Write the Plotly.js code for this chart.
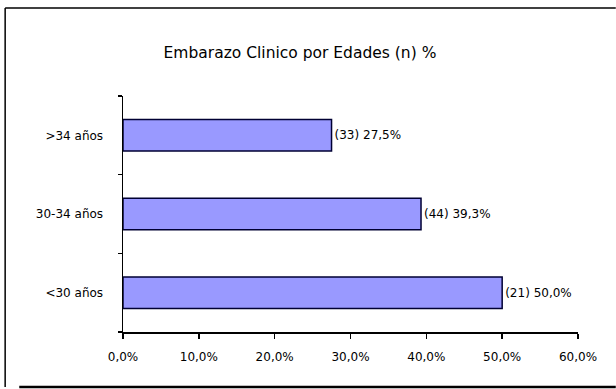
<!DOCTYPE html>
<html>
<head>
<meta charset="utf-8">
<script src="https://cdn.plot.ly/plotly-3.0.1.min.js"></script>
<style>html,body{margin:0;padding:0;background:#fff;overflow:hidden;}#chart{width:616px;height:389px;}</style>
</head>
<body>
<div id="chart"></div>
<script>
const categories = ["<30 años", "30-34 años", ">34 años"];
const percentages = [50.0, 39.3, 27.5];
const counts = [21, 44, 33];
const xTickValues = [0, 10, 20, 30, 40, 50, 60];

const labels = percentages.map((p, i) => "(" + counts[i] + ") " + p.toFixed(1).replace(".", ",") + "%");
const xTickText = xTickValues.map(v => v.toFixed(1).replace(".", ",") + "%");

const fontFam = "DejaVu Sans, Liberation Sans, Arial, sans-serif";

const trace = {
  type: "bar",
  orientation: "h",
  y: categories,
  x: percentages,
  text: labels,
  textposition: "outside",
  cliponaxis: false,
  textfont: {family: fontFam, size: 12, color: "#000"},
  marker: {color: "#9999ff", line: {color: "#000033", width: 1.5}},
  hoverinfo: "none"
};

const layout = {
  width: 616,
  height: 389,
  margin: {l: 123, r: 38, t: 96, b: 57},
  paper_bgcolor: "#ffffff",
  plot_bgcolor: "#ffffff",
  showlegend: false,
  bargap: 0.6,
  title: {
    text: "Embarazo Clinico por Edades (n) %",
    font: {family: fontFam, size: 15.5, color: "#000"},
    x: 0.487, xref: "container", xanchor: "center",
    y: 0.866, yref: "container", yanchor: "middle"
  },
  xaxis: {
    range: [0, 60],
    tickvals: xTickValues,
    ticktext: xTickText,
    showgrid: false,
    zeroline: false,
    showline: true,
    linecolor: "#000",
    linewidth: 1.5,
    ticks: "outside",
    ticklen: 5,
    tickcolor: "#000",
    tickwidth: 1.5,
    ticklabelstandoff: 8,
    tickfont: {family: fontFam, size: 12, color: "#000"},
    fixedrange: true
  },
  yaxis: {
    type: "category",
    categoryorder: "array",
    categoryarray: categories,
    showgrid: false,
    zeroline: false,
    showline: true,
    linecolor: "#000",
    linewidth: 1.5,
    ticks: "outside",
    tickson: "boundaries",
    ticklen: 4,
    tickcolor: "#000",
    tickwidth: 1.5,
    ticklabelstandoff: 16,
    tickfont: {family: fontFam, size: 12, color: "#000"},
    fixedrange: true
  },
  shapes: [
    {type: "line", xref: "paper", yref: "paper", x0: -0.259, x1: 1.083, y0: 1.373, y1: 1.373, line: {color: "#000", width: 1.5}},
    {type: "line", xref: "paper", yref: "paper", x0: -0.259, x1: -0.259, y0: 1.373, y1: -0.233, line: {color: "#000", width: 1.5}},
    {type: "line", xref: "paper", yref: "paper", x0: -0.228, x1: 1.083, y0: -0.233, y1: -0.233, line: {color: "#000", width: 2.5}}
  ]
};

Plotly.newPlot("chart", [trace], layout, {displayModeBar: false, staticPlot: true});
</script>
</body>
</html>
